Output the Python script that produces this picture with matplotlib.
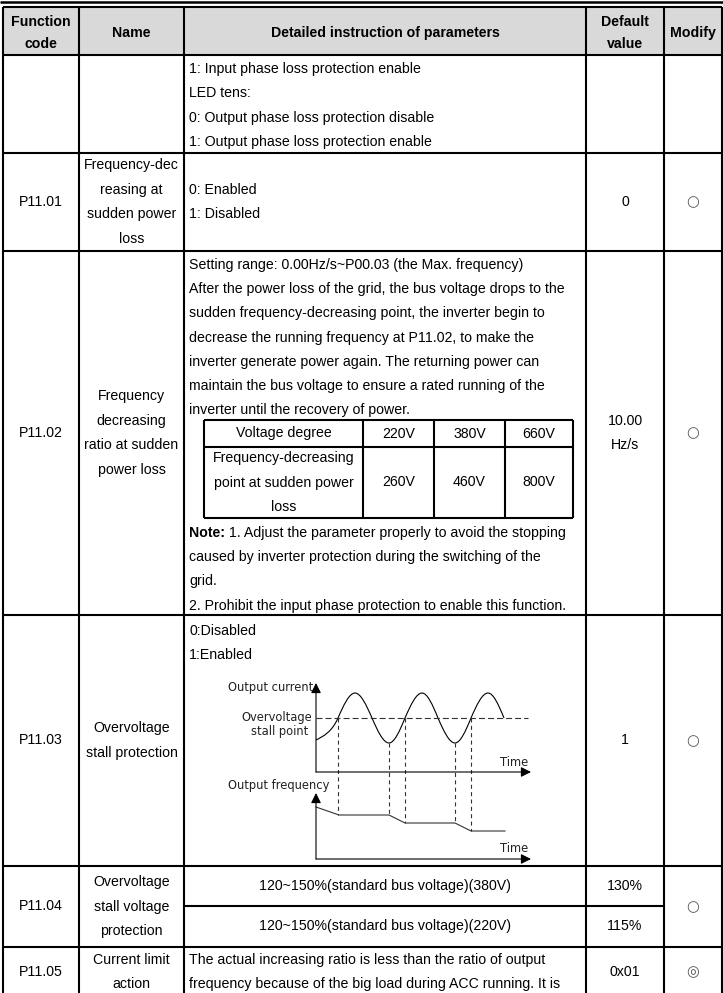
import matplotlib.pyplot as plt
from matplotlib.path import Path
from matplotlib.patches import PathPatch, Rectangle
from matplotlib.transforms import Affine2D

plt.rcParams['lines.scale_dashes'] = False

# ---- table content ----
header_cells = [["Function", "code"], ["Name"], ["Detailed instruction of parameters"],
                ["Default", "value"], ["Modify"]]
codes = ["", "P11.01", "P11.02", "P11.03", "P11.04", "P11.05"]
names = [
    [],
    ["Frequency-dec", "reasing at", "sudden power", "loss"],
    ["Frequency", "decreasing", "ratio at sudden", "power loss"],
    ["Overvoltage", "stall protection"],
    ["Overvoltage", "stall voltage", "protection"],
    ["Current limit", "action"],
]
defaults = ["", ["0"], ["10.00", "Hz/s"], ["1"], None, ["0x01"]]
modify = ["", "○", "○", "○", "○", "◎"]

row0_text = ["1: Input phase loss protection enable", "LED tens:",
             "0: Output phase loss protection disable",
             "1: Output phase loss protection enable"]
p1101_text = ["0: Enabled", "1: Disabled"]
p1102_text = ["Setting range: 0.00Hz/s~P00.03 (the Max. frequency)",
              "After the power loss of the grid, the bus voltage drops to the",
              "sudden frequency-decreasing point, the inverter begin to",
              "decrease the running frequency at P11.02, to make the",
              "inverter generate power again. The returning power can",
              "maintain the bus voltage to ensure a rated running of the",
              "inverter until the recovery of power."]
volt_header = ["Voltage degree", "220V", "380V", "660V"]
volt_values = [["Frequency-decreasing", "point at sudden power", "loss"], "260V", "460V", "800V"]
note_first = " 1. Adjust the parameter properly to avoid the stopping"
note_rest = ["caused by inverter protection during the switching of the", "grid.",
             "2. Prohibit the input phase protection to enable this function."]
p1103_text = ["0:Disabled", "1:Enabled"]
p1104_text = ["120~150%(standard bus voltage)(380V)", "120~150%(standard bus voltage)(220V)"]
p1104_default = ["130%", "115%"]
p1105_text = ["The actual increasing ratio is less than the ratio of output",
              "frequency because of the big load during ACC running. It is"]

# ---- diagram data ----
stall_level = 54
wave_t = [0, 22, 39, 56, 73, 89, 106, 122, 139, 155, 172, 188]
wave_v = [32, 54, 79, 54, 29, 54, 79, 54, 29, 54, 79, 54]
freq_t = [0, 23, 73, 89, 139, 155, 189]
freq_v = [52, 44, 44, 36, 36, 28, 28]
mark_t = [22, 73, 89, 139, 155]

# ---- layout ----
FONT = ['Liberation Sans', 'DejaVu Sans']
SMALL = ['DejaVu Sans']
FS = 10.2
STEP = 24.4
LW = 1.5
W, H = 723, 993
COLS = [3, 79, 184, 586, 664, 722]
ROWS = [7, 55, 153, 251, 615, 866, 947, 997]
INNER_COLS = [204, 363, 434, 505, 573]
INNER_ROWS = [420, 447, 518]

fig = plt.figure(figsize=(W / 100, H / 100), dpi=100)
ax = fig.add_axes([0, 0, 1, 1])
ax.set_xlim(0, W)
ax.set_ylim(H, 0)
ax.axis('off')


def txt(x, y, s, ha='center', weight='normal', size=FS, family=FONT, color='black'):
    return ax.text(x, y, s, ha=ha, va='center', fontsize=size, fontweight=weight,
                   family=family, color=color)


def stack(x, yc, lines, ha='center', weight='normal', step=STEP):
    n = len(lines)
    for i, s in enumerate(lines):
        txt(x, yc + (i - (n - 1) / 2) * step, s, ha=ha, weight=weight)


def left_lines(y0, lines, step=STEP):
    for i, s in enumerate(lines):
        txt(COLS[2] + 5, y0 + i * step, s, ha='left')


def hline(x0, x1, y, lw=LW):
    ax.plot([x0, x1], [y, y], color='black', lw=lw, solid_capstyle='butt')


def vline(x, y0, y1, lw=LW):
    ax.plot([x, x], [y0, y1], color='black', lw=lw, solid_capstyle='butt')


cx = [(a + b) / 2 for a, b in zip(COLS, COLS[1:])]

# header
ax.add_patch(Rectangle((COLS[0], ROWS[0]), COLS[-1] - COLS[0], ROWS[1] - ROWS[0],
                       facecolor='#d9d9d9', edgecolor='none'))
for x, lines in zip(cx, header_cells):
    stack(x, 33, lines, weight='bold', step=23)

# grid
hline(0, W, 1.5, lw=1.8)
for x in COLS:
    vline(x, ROWS[0], ROWS[-1])
for y in ROWS[:-1]:
    hline(COLS[0], COLS[-1], y)
hline(COLS[2], COLS[4], 906)

# per row: code, name, default, modify
for i in range(6):
    top, bot = ROWS[i + 1], ROWS[i + 2]
    yc = (top + bot) / 2
    if codes[i]:
        txt(cx[0], yc, codes[i])
    if names[i]:
        stack(cx[1], yc, names[i])
    if defaults[i]:
        stack(cx[3], yc, defaults[i])
    if modify[i]:
        txt(cx[4], yc, modify[i], size=10.5, family=['DejaVu Sans'], color='#555555')

# details
left_lines(69, row0_text)
stack(COLS[2] + 5, 202, p1101_text, ha='left')
left_lines(265, p1102_text, step=24.2)

for x in INNER_COLS:
    vline(x, INNER_ROWS[0], INNER_ROWS[-1])
for y in INNER_ROWS:
    hline(INNER_COLS[0], INNER_COLS[-1], y)
icx = [(a + b) / 2 for a, b in zip(INNER_COLS, INNER_COLS[1:])]
iy1 = (INNER_ROWS[0] + INNER_ROWS[1]) / 2
iy2 = (INNER_ROWS[1] + INNER_ROWS[2]) / 2
for x, s in zip(icx, volt_header):
    txt(x, iy1, s)
for x, s in zip(icx, volt_values):
    stack(x, iy2, s if isinstance(s, list) else [s])

note = txt(COLS[2] + 5, 533, "Note:", ha='left', weight='bold')
ax.annotate(note_first, xy=(1, 0.5), xycoords=note, ha='left', va='center',
            fontsize=FS, family=FONT)
left_lines(557, note_rest)

left_lines(631, p1103_text)

for y, s, d in zip([886, 926], p1104_text, p1104_default):
    txt(cx[2], y, s)
    txt(cx[3], y, d)

left_lines(960, p1105_text)

# ---- P11.03 sketch ----
to_cur = Affine2D().scale(1, -1).translate(316, 772)
to_frq = Affine2D().scale(1, -1).translate(316, 859)
cur = to_cur + ax.transData
frq = to_frq + ax.transData

# wave as bezier segments through the read-off anchors
verts = [(wave_t[0], wave_v[0]), (7, 35.5), (16, 40), (wave_t[1], wave_v[1])]
pcodes = [Path.MOVETO, Path.CURVE4, Path.CURVE4, Path.CURVE4]
for i in range(1, len(wave_t) - 1):
    x0, y0, x1, y1 = wave_t[i], wave_v[i], wave_t[i + 1], wave_v[i + 1]
    dx, dy = x1 - x0, y1 - y0
    if y0 == stall_level:
        c1, c2 = (x0 + dx / 3, y0 + dy * 0.524), (x0 + 2 * dx / 3, y1)
    else:
        c1, c2 = (x0 + dx / 3, y0), (x0 + 2 * dx / 3, y1 - dy * 0.524)
    verts += [c1, c2, (x1, y1)]
    pcodes += [Path.CURVE4] * 3
ax.add_patch(PathPatch(Path(verts, pcodes), transform=cur, facecolor='none',
                       edgecolor='black', lw=0.8))

ax.plot([0, 212], [stall_level, stall_level], transform=cur, color='#333333',
        lw=0.8, linestyle=(0, (4.3, 2.2)))
ax.plot(freq_t, freq_v, transform=frq, color='#333333', lw=0.8)

for t in mark_t:
    v = wave_v[wave_t.index(t)]
    fv = freq_v[freq_t.index(t)] if t in freq_t else freq_v[1]
    p0 = to_cur.transform((t, v))
    p1 = to_frq.transform((t, fv))
    ax.plot([p0[0], p1[0]], [p0[1], p1[1]], color='#333333', lw=0.8,
            linestyle=(0, (2.9, 2.4)))

arrow = dict(arrowstyle='-|>,head_length=0.6,head_width=0.3', mutation_scale=10,
             color='black', lw=0.8, shrinkA=0, shrinkB=0)
for tr in (cur, frq):
    ax.annotate('', xy=(0, 89 if tr is cur else 66), xytext=(0, 0), xycoords=tr,
                textcoords=tr, arrowprops=arrow)
    ax.annotate('', xy=(215, 0), xytext=(0, 0), xycoords=tr, textcoords=tr,
                arrowprops=arrow)

small = dict(size=8.3, family=SMALL, color='#222222')
txt(313, 687, "Output current", ha='right', **small)
txt(277, 717, "Overvoltage", **small)
txt(280, 732, "stall point", **small)
txt(514, 763, "Time", **small)
txt(329, 785, "Output frequency", ha='right', **small)
txt(514, 848, "Time", **small)

fig.savefig('out.png', dpi=100)
